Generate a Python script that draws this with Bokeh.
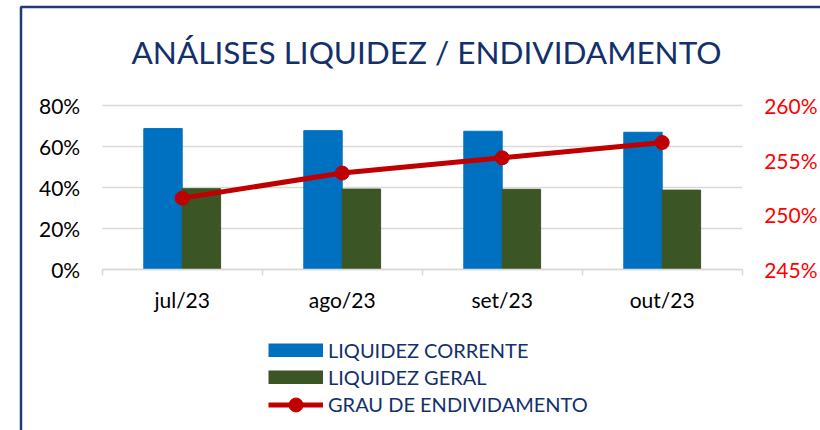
from bokeh.plotting import figure
from bokeh.models import (Range1d, LinearAxis, FixedTicker, NumeralTickFormatter, Legend,
                          LegendItem, ColumnDataSource, Label, BoxAnnotation)
from bokeh.transform import dodge
from bokeh.embed import file_html
from bokeh.resources import INLINE

# ---- data ----
meses = ["jul/23", "ago/23", "set/23", "out/23"]
liquidez_corrente = [0.687, 0.677, 0.674, 0.669]
liquidez_geral = [0.393, 0.391, 0.390, 0.386]
grau_endividamento = [2.515, 2.538, 2.552, 2.566]
left_ticks = [0.0, 0.2, 0.4, 0.6, 0.8]
right_ticks = [2.45, 2.50, 2.55, 2.60]
titulo = "ANÁLISES LIQUIDEZ / ENDIVIDAMENTO"

FONT = "Lato"
NAVY = "#13306B"
BLUE = "#0070C0"
GREEN = "#3B5525"
RED = "#C00000"
GRID = "#D9D9D9"

# ---- page geometry (pixels) ----
W, H = 820, 430
PX_LEFT = 101.7      # left edge of the plotting area
PX_CAT = 160.0       # width of one category
PX_BASE = 268.5      # y of the 0% / 245% baseline
PX_TOP = 105.0       # y of the 80% / 260% gridline

ky = (PX_BASE - PX_TOP) / (left_ticks[-1] - left_ticks[0])
kr = (PX_BASE - PX_TOP) / (right_ticks[-1] - right_ticks[0])
def px2x(px): return (px - PX_LEFT) / PX_CAT
def px2y(py): return left_ticks[0] + (PX_BASE - py) / ky
def px2r(py): return right_ticks[0] + (PX_BASE - py) / kr

n = len(meses)
pos = [i + 0.5 for i in range(n)]
src = ColumnDataSource(dict(x=pos, corrente=liquidez_corrente, geral=liquidez_geral,
                            endiv=grau_endividamento))

p = figure(width=W, height=H, x_range=Range1d(px2x(0), px2x(W)),
           y_range=Range1d(px2y(H), px2y(0)),
           output_backend="svg", toolbar_location=None,
           min_border_left=0, min_border_right=0, min_border_top=0, min_border_bottom=0)
p.outline_line_color = None
p.extra_y_ranges = {"endiv": Range1d(px2r(H), px2r(0))}

# bars
r_c = p.vbar(x=dodge("x", -0.12), top="corrente", width=0.24, source=src,
             fill_color=BLUE, line_color=BLUE)
r_g = p.vbar(x=dodge("x", 0.12), top="geral", width=0.24, source=src,
             fill_color=GREEN, line_color=GREEN)
# line
r_l = p.line(x="x", y="endiv", source=src, y_range_name="endiv", line_color=RED, line_width=5)
r_s = p.scatter(x="x", y="endiv", source=src, y_range_name="endiv", size=14,
                fill_color=RED, line_color=RED)

# x axis (at the 0 baseline)
xa = p.xaxis[0]
xa.fixed_location = left_ticks[0]
xa.bounds = (0, n)
xa.ticker = FixedTicker(ticks=pos, minor_ticks=list(range(n + 1)))
xa.major_label_overrides = {pv: m for pv, m in zip(pos, meses)}
xa.major_tick_out = 0
xa.major_tick_in = 0
xa.minor_tick_out = 6
xa.minor_tick_in = 0
xa.minor_tick_line_color = GRID
xa.minor_tick_line_width = 1.5
xa.axis_line_color = GRID
xa.axis_line_width = 1.5
xa.major_label_text_font = FONT
xa.major_label_text_font_size = "21px"
xa.major_label_text_color = "#000000"
xa.major_label_standoff = 12

# left y axis
ya = p.yaxis[0]
ya.fixed_location = 0
ya.ticker = FixedTicker(ticks=left_ticks)
ya.formatter = NumeralTickFormatter(format="0%")
ya.axis_line_color = None
ya.major_tick_out = 0
ya.major_tick_in = 0
ya.minor_tick_out = 0
ya.minor_tick_in = 0
ya.major_tick_line_color = None
ya.minor_tick_line_color = None
ya.major_label_text_font = FONT
ya.major_label_text_font_size = "21px"
ya.major_label_text_color = "#000000"
ya.major_label_standoff = 22

# right y axis
ra = LinearAxis(y_range_name="endiv", ticker=FixedTicker(ticks=right_ticks),
                formatter=NumeralTickFormatter(format="0%"), fixed_location=n)
ra.axis_line_color = None
ra.major_tick_out = 0
ra.major_tick_in = 0
ra.minor_tick_out = 0
ra.minor_tick_in = 0
ra.major_tick_line_color = None
ra.minor_tick_line_color = None
ra.major_label_text_font = FONT
ra.major_label_text_font_size = "21px"
ra.major_label_text_color = "#FF0000"
ra.major_label_standoff = 22
p.add_layout(ra, "right")

p.xgrid.grid_line_color = None
p.ygrid.grid_line_color = GRID
p.ygrid.grid_line_width = 1.5
p.ygrid.ticker = FixedTicker(ticks=left_ticks)
p.ygrid.cross_bounds = (0, n)

# title
p.add_layout(Label(x=px2x(426), y=px2y(51), text=titulo, text_align="center",
                   text_baseline="middle", text_font=FONT, text_font_size="31.5px",
                   text_color=NAVY))

# legends: bar swatches use NaN proxies (draw nothing in the plot)
nan = float("nan")
lg1 = p.line(x=[nan], y=[nan], line_color=BLUE, line_width=14)
lg2 = p.line(x=[nan], y=[nan], line_color=GREEN, line_width=14)
common = dict(orientation="vertical", glyph_width=55, padding=0, margin=0,
              label_standoff=5, border_line_color=None, background_fill_alpha=0,
              label_text_font=FONT, label_text_font_size="20px", label_text_color=NAVY)
legend_bars = Legend(items=[
    LegendItem(label="LIQUIDEZ CORRENTE", renderers=[lg1]),
    LegendItem(label="LIQUIDEZ GERAL", renderers=[lg2]),
], location=(268, 39.5), glyph_height=14, label_height=27, spacing=0, **common)
legend_line = Legend(items=[
    LegendItem(label="GRAU DE ENDIVIDAMENTO", renderers=[r_l, r_s]),
], location=(268, 8.5), glyph_height=35, label_height=27, spacing=0, **common)
p.add_layout(legend_bars, "center")
p.add_layout(legend_line, "center")

# outer border of the chart card (left and top edges visible)
p.add_layout(BoxAnnotation(left=px2x(20.5), right=px2x(W + 50), top=px2y(6.5),
                           bottom=px2y(H + 50), fill_alpha=0, line_alpha=1,
                           line_color="#1F3A78", line_width=2.5))

open("out.html", "w").write(file_html(p, INLINE))
